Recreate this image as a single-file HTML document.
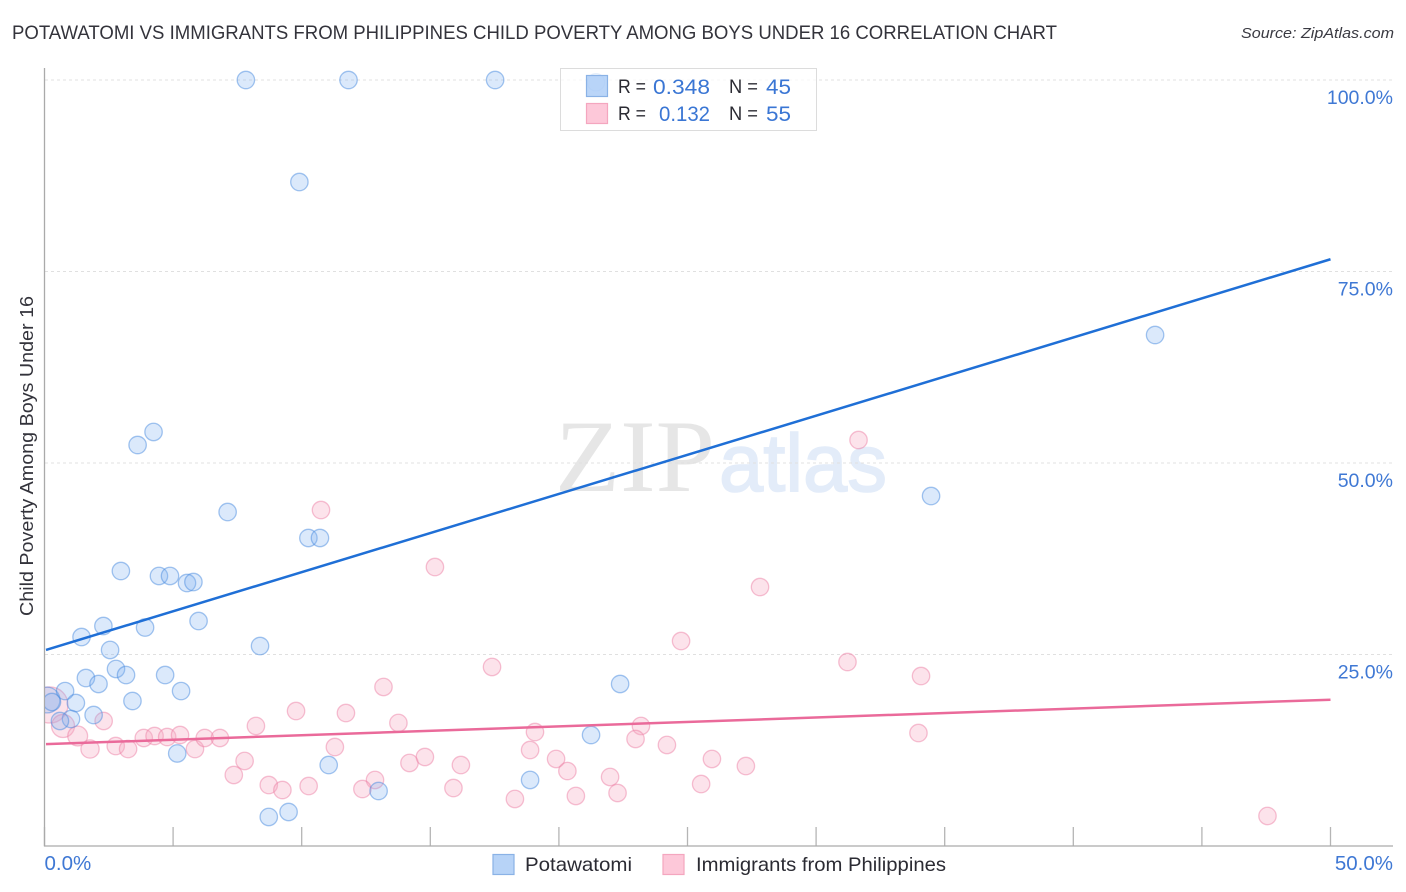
<!DOCTYPE html>
<html>
<head>
<meta charset="utf-8">
<title>Potawatomi vs Immigrants from Philippines Child Poverty Correlation Chart</title>
<style>
html,body{margin:0;padding:0;background:#fff;width:1406px;height:892px;overflow:hidden}
svg{display:block;font-family:"Liberation Sans",sans-serif}
</style>
</head>
<body>
<svg id="chart" width="1406" height="892" viewBox="0 0 1406 892" xmlns="http://www.w3.org/2000/svg">
  <defs><clipPath id="plot-clip"><rect x="45" y="50" width="1350" height="796"/></clipPath></defs>
  <text x="12" y="39" font-size="19" fill="#33333b" textLength="1045" lengthAdjust="spacingAndGlyphs">POTAWATOMI VS IMMIGRANTS FROM PHILIPPINES CHILD POVERTY AMONG BOYS UNDER 16 CORRELATION CHART</text>
  <text x="1241" y="38" font-size="15" font-style="italic" fill="#3a3a42" textLength="153" lengthAdjust="spacingAndGlyphs">Source: ZipAtlas.com</text>
  <g id="watermark">
    <text x="555" y="491" font-family="'Liberation Serif',serif" font-size="103" fill="#e6e6e6" textLength="160" lengthAdjust="spacingAndGlyphs">ZIP</text>
    <text x="719" y="491" font-size="82" fill="#e3ecf9" stroke="#e3ecf9" stroke-width="1.6" textLength="168" lengthAdjust="spacingAndGlyphs">atlas</text>
  </g>
  <g id="grid"></g>
  <g id="axes"></g>
  <g id="points" clip-path="url(#plot-clip)"></g>
  <g id="trends"></g>
  <g id="ylabels"></g>
  <g id="xlabels"></g>
  <text transform="translate(33,616) rotate(-90)" font-size="18.5" fill="#33333b" textLength="320" lengthAdjust="spacingAndGlyphs">Child Poverty Among Boys Under 16</text>

  <g>
    <rect x="560.5" y="68.5" width="256" height="62" fill="#fff" fill-opacity="0.72" stroke="#dcdcdc"/>
    <rect x="586.5" y="75.5" width="21" height="21" fill="#a9cbf6" fill-opacity="0.8" stroke="#8ab2e6" stroke-width="1.2"/>
    <rect x="586.5" y="103.5" width="21" height="20" fill="#fdc8d9" stroke="#f4a6bf" stroke-width="1.2"/>
    <text x="618" y="93" font-size="19.5" fill="#2b2b33" textLength="28" lengthAdjust="spacingAndGlyphs">R =</text>
    <text x="653" y="94" font-size="21" fill="#3a76d4" textLength="57" lengthAdjust="spacingAndGlyphs">0.348</text>
    <text x="729" y="93" font-size="19.5" fill="#2b2b33" textLength="29" lengthAdjust="spacingAndGlyphs">N =</text>
    <text x="766" y="94" font-size="21" fill="#3a76d4" textLength="25" lengthAdjust="spacingAndGlyphs">45</text>
    <text x="618" y="120" font-size="19.5" fill="#2b2b33" textLength="28" lengthAdjust="spacingAndGlyphs">R =</text>
    <text x="659" y="121" font-size="21" fill="#3a76d4" textLength="51" lengthAdjust="spacingAndGlyphs">0.132</text>
    <text x="729" y="120" font-size="19.5" fill="#2b2b33" textLength="29" lengthAdjust="spacingAndGlyphs">N =</text>
    <text x="766" y="121" font-size="21" fill="#3a76d4" textLength="25" lengthAdjust="spacingAndGlyphs">55</text>
  </g>

  <g>
    <rect x="493" y="854.5" width="21" height="20" fill="#b7d3f7" stroke="#8ab2e6" stroke-width="1.2"/>
    <text x="525" y="871" font-size="19.5" fill="#2b2b33" textLength="107" lengthAdjust="spacingAndGlyphs">Potawatomi</text>
    <rect x="663" y="854.5" width="21" height="20" fill="#fdc8d9" stroke="#f4a6bf" stroke-width="1.2"/>
    <text x="696" y="871" font-size="19.5" fill="#2b2b33" textLength="250" lengthAdjust="spacingAndGlyphs">Immigrants from Philippines</text>
  </g>
</svg>
<script>
const xTicks = [0,5,10,15,20,25,30,35,40,45,50];
const yGridValues = [25,50,75,100];
const yTickLabels = ["25.0%","50.0%","75.0%","100.0%"];
const xEndValues = [0,50];
const xEndLabels = ["0.0%","50.0%"];

const potawatomiX = [0.10,7.83,11.82,17.52,21.44,9.91,43.18,34.47,4.24,3.62,7.12,10.26,10.71,2.97,4.45,4.88,5.54,5.79,5.99,2.29,3.91,1.44,8.38,2.55,2.78,4.69,3.17,1.61,2.10,22.38,5.31,0.80,3.42,1.22,0.29,1.91,1.03,0.60,21.25,5.16,11.05,18.88,12.99,9.49,8.72];
const potawatomiY = [19.06,100,100,100,99.7,86.68,66.71,45.69,54.05,52.35,43.60,40.21,40.21,35.90,35.25,35.25,34.33,34.46,29.37,28.72,28.52,27.28,26.11,25.59,23.11,22.32,22.32,21.93,21.15,21.15,20.23,20.23,18.93,18.67,18.80,17.10,16.58,16.32,14.49,12.08,10.57,8.62,7.18,4.44,3.79];
const potawatomiWeights = [2.2];

const philippinesX = [0.21,0.72,1.29,1.77,2.30,2.77,3.25,3.86,4.28,4.77,5.27,5.85,6.23,6.82,8.22,7.78,7.36,8.72,9.25,10.27,9.78,11.29,11.72,10.75,15.18,31.65,27.82,24.75,17.40,31.22,34.08,13.18,13.76,19.07,23.19,22.98,24.20,18.88,19.89,25.95,33.98,20.33,27.27,14.19,14.79,16.19,12.85,12.36,15.90,21.99,20.66,22.28,18.29,25.53,47.55];
const philippinesY = [18.41,15.67,14.36,12.66,16.32,13.05,12.66,14.10,14.36,14.23,14.49,12.66,14.10,14.10,15.67,11.10,9.27,7.96,7.31,7.83,17.62,12.92,17.36,43.86,36.42,53.00,33.81,26.76,23.37,24.02,22.19,20.76,16.06,14.88,15.67,13.97,13.19,12.53,11.36,11.36,14.75,9.79,10.44,10.84,11.62,10.57,8.62,7.44,7.57,9.01,6.53,6.92,6.14,8.09,3.92];
const philippinesWeights = [4.3,1.75,1.3,1.1];

const potawatomiTrend = [25.6,76.6];
const philippinesTrend = [13.3,19.1];

const NS = 'http://www.w3.org/2000/svg';
const sx = v => 44.5 + v * (1330.5 - 44.5) / 50;
const sy = v => 846 - v * (846 - 80) / 100;

function mk(tag, attrs, parent) {
  const el = document.createElementNS(NS, tag);
  for (const k in attrs) el.setAttribute(k, attrs[k]);
  parent.appendChild(el);
  return el;
}
const gGrid = document.getElementById('grid');
const gAxes = document.getElementById('axes');
const gPoints = document.getElementById('points');
const gTrends = document.getElementById('trends');
const gYL = document.getElementById('ylabels');
const gXL = document.getElementById('xlabels');

yGridValues.forEach((v, i) => {
  const line = mk('line', {x1: 45, x2: 1393, y1: sy(v), y2: sy(v), stroke: '#e0e0e0', 'stroke-width': 1, 'stroke-dasharray': '3 3'}, gGrid);
  
  
  const t = mk('text', {x: 1393, y: sy(v) + 24, 'text-anchor': 'end', 'font-size': 19.5, fill: '#3f78d4'}, gYL);
  t.textContent = yTickLabels[i];
  
  
});

xEndValues.forEach((v, i) => {
  const t = mk('text', {x: i === 0 ? sx(v) : 1393, y: 870, 'text-anchor': i === 0 ? 'start' : 'end', 'font-size': 20.5, fill: '#3f78d4'}, gXL);
  t.textContent = xEndLabels[i];
  
  
});

xTicks.forEach(v => {
  const tick = mk('line', {x1: sx(v), x2: sx(v), y1: 827, y2: 846, stroke: '#b5b5b5', 'stroke-width': 1.3}, gAxes);
  
  
});
const yAxis = mk('line', {x1: 44.5, x2: 44.5, y1: 68, y2: 846.5, stroke: '#aaa', 'stroke-width': 1.3}, gAxes);


const xAxis = mk('line', {x1: 44, x2: 1393, y1: 846, y2: 846, stroke: '#aaa', 'stroke-width': 1.3}, gAxes);



const baseR = 8.7;
function drawSeries(xs, ys, weights, fill, stroke, fillOp, strokeOp, name) {
  xs.forEach((x, i) => {
    const w = i < weights.length ? weights[i] : 1;
    const c = mk('circle', {cx: sx(x), cy: sy(ys[i]), r: baseR * Math.sqrt(w), fill: fill, 'fill-opacity': fillOp, stroke: stroke, 'stroke-opacity': strokeOp, 'stroke-width': 1.3}, gPoints);
    
    
  });
}
drawSeries(philippinesX, philippinesY, philippinesWeights, '#f7a8c1', '#ec7ea3', 0.32, 0.48, 'philippines');
drawSeries(potawatomiX, potawatomiY, potawatomiWeights, '#7eb0f0', '#4a8ce0', 0.28, 0.5, 'potawatomi');

function drawTrend(vals, color, name) {
  const l = mk('line', {x1: 46, x2: sx(50), y1: sy(vals[0]), y2: sy(vals[1]), stroke: color, 'stroke-width': 2.5}, gTrends);
  
  
}
drawTrend(philippinesTrend, '#ea6a9a', 'philippines-trend-line');
drawTrend(potawatomiTrend, '#1f6fd6', 'potawatomi-trend-line');
</script>
</body>
</html>
